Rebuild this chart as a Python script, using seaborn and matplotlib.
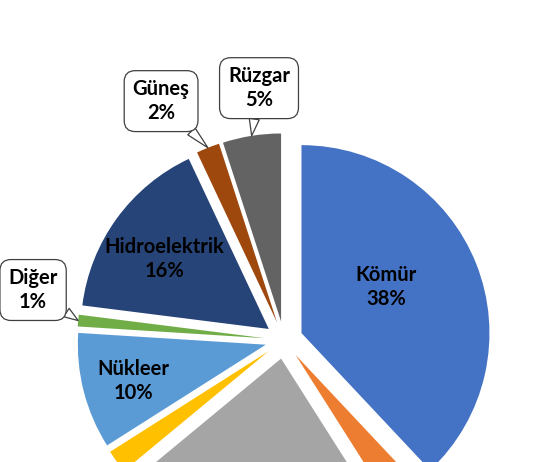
import seaborn as sns
import matplotlib.pyplot as plt
import numpy as np

# kaynaklar (saat yönünde, 12'den başlayarak)
kaynaklar = ['Kömür', 'Sıvı Yakıt', 'Doğalgaz', 'Jeotermal', 'Nükleer', 'Diğer', 'Hidroelektrik', 'Güneş', 'Rüzgar']
oranlar = [38, 3, 23, 2, 10, 1, 16, 2, 5]
renkler = ['#4472C4', '#ED7D31', '#A5A5A5', '#FFC000', '#5B9BD5', '#70AD47', '#264478', '#9E480E', '#636363']

# dilim içi etiketler (yarıçap, açı kayması) ve konuşma balonu etiketleri
ic_etiket = {'Kömür': (0.515, 7.0), 'Hidroelektrik': (0.67, 2.0), 'Nükleer': (0.73, 1.0)}
balon_etiket = {'Güneş': (-0.654, 1.271), 'Rüzgar': (-0.133, 1.340), 'Diğer': (-1.335, 0.266)}


def ciz():
    sns.set_theme(style='white')
    plt.rcParams['font.family'] = ['Lato', 'DejaVu Sans']

    fig = plt.figure(figsize=(5.34, 4.62), dpi=100)
    ax = fig.add_axes([0, 0, 1, 1])

    wedges, _ = ax.pie(oranlar, colors=sns.color_palette(renkler), startangle=90, counterclock=False,
                       explode=[0.1] * len(oranlar), radius=1.0, wedgeprops=dict(linewidth=0))

    for w, ad, v in zip(wedges, kaynaklar, oranlar):
        aci = np.deg2rad((w.theta1 + w.theta2) / 2)
        cx, cy = w.center
        metin = f'{ad}\n{v}%'
        if ad in ic_etiket:
            r, kayma = ic_etiket[ad]
            a = aci + np.deg2rad(kayma)
            ax.text(cx + r * np.cos(a), cy + r * np.sin(a), metin, ha='center', va='center',
                    fontsize=14.5, fontweight='bold', color='black', linespacing=1.25)
        elif ad in balon_etiket:
            uc = (cx + np.cos(aci), cy + np.sin(aci))
            ax.annotate(metin, xy=uc, xytext=balon_etiket[ad], ha='center', va='center',
                        fontsize=14.5, fontweight='bold', color='black', linespacing=1.25,
                        bbox=dict(boxstyle='round,pad=0.42,rounding_size=0.55', fc='white', ec='#404040', lw=0.9),
                        arrowprops=dict(arrowstyle='wedge,tail_width=0.5,shrink_factor=0.5', fc='white',
                                        ec='#404040', lw=0.9, shrinkA=0, shrinkB=0))

    ax.set_xlim(-1.511, 1.330)
    ax.set_ylim(-0.649, 1.809)
    ax.set_aspect('equal')
    ax.axis('off')
    fig.savefig('out.png', dpi=100)


if __name__ == '__main__':
    ciz()
